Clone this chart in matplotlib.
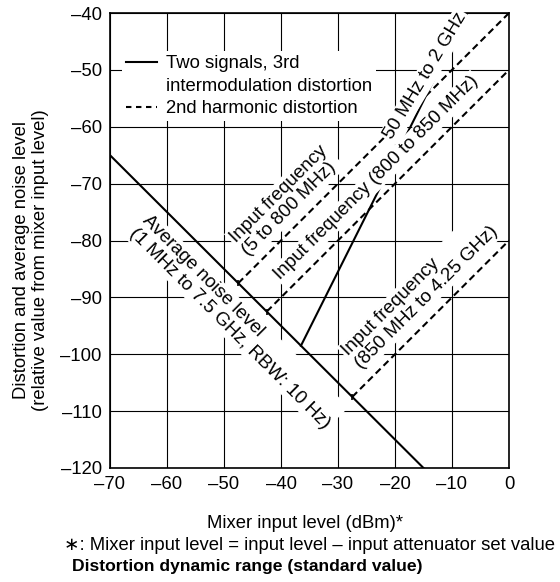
import matplotlib
matplotlib.use("Agg")
import matplotlib.pyplot as plt
from matplotlib.lines import Line2D

plt.rcParams['font.family'] = ['Liberation Sans', 'DejaVu Sans']

# average noise level line
noise_x = [-70, -15]
noise_y = [-65, -120]

# two signals, 3rd order intermodulation distortion
im3_x = [-36.5, -7.3]
im3_y = [-98.5, -40]

# 2nd harmonic distortion, by input frequency
h2_low_x = [-47.5, 0]      # 5 to 800 MHz
h2_low_y = [-87.5, -40]
h2_mid_x = [-42.5, 0]      # 800 to 850 MHz
h2_mid_y = [-92.5, -50]
h2_high_x = [-27.5, 0]     # 850 MHz to 4.25 GHz
h2_high_y = [-107.5, -80]

x_ticks = [-70, -60, -50, -40, -30, -20, -10, 0]
y_ticks = [-120, -110, -100, -90, -80, -70, -60, -50, -40]

FS = 13.3
FS_LBL = 13.6

def dash_label(v):
    return str(v).replace('-', '\u2013')

fig = plt.figure(figsize=(5.6, 5.82), dpi=100)
ax = fig.add_axes([110/560, 1 - 468/582, 399/560, 455/582])

ax.plot(noise_x, noise_y, color='black', lw=1.5)
ax.plot(im3_x, im3_y, color='black', lw=1.5)
for xs, ys in [(h2_low_x, h2_low_y), (h2_mid_x, h2_mid_y), (h2_high_x, h2_high_y)]:
    ax.plot(xs, ys, color='black', lw=1.5, dashes=(3.3, 2.0),
            marker='|', markersize=5, markevery=[0], markeredgewidth=1.2)

ax.set_xlim(-70, 0)
ax.set_ylim(-120, -40)
ax.set_xticks(x_ticks)
ax.set_yticks(y_ticks)
ax.set_xticklabels([dash_label(v) for v in x_ticks])
ax.set_yticklabels([dash_label(v) for v in y_ticks])
ax.tick_params(length=0, labelsize=FS, pad=6)
ax.set_axisbelow(True)
ax.grid(True, color='black', lw=0.8)
for s in ax.spines.values():
    s.set_linewidth(1.2)

box = dict(facecolor='white', edgecolor='none', pad=1.5)
txt = dict(fontsize=FS_LBL, ha='center', va='center', rotation_mode='anchor',
           multialignment='left', linespacing=1.05, bbox=box)

ax.text(-39.3, -73.0, "Input frequency\n(5 to 800 MHz)", rotation=45, **txt)
ax.text(-23.2, -69.0, "Input frequency (800 to 850 MHz)", rotation=45, **txt)
ax.text(-15.6, -88.9, "Input frequency\n(850 MHz to 4.25 GHz)", rotation=45, **txt)
ax.text(-47.9, -94.3, "Average noise level\n(1 MHz to 7.5 GHz, RBW: 10 Hz)",
        rotation=-45, **txt)
ax.text(-14.6, -51.1, "50 MHz to 2 GHz", rotation=59, **txt)

handles = [Line2D([], [], color='black', lw=1.5),
           Line2D([], [], color='none'),
           Line2D([], [], color='black', lw=1.5, dashes=(2.6, 2.2))]
labels = ["Two signals, 3rd", "intermodulation distortion", "2nd harmonic distortion"]
leg = ax.legend(handles, labels, loc='upper left', bbox_to_anchor=(0.03, 0.9156),
                fontsize=FS, frameon=True, fancybox=False, framealpha=1,
                edgecolor='none', handlelength=1.7, handletextpad=0.5,
                labelspacing=0.3, borderpad=0.2, borderaxespad=0)

fig.text(305/560, 1 - 524/582, "Mixer input level (dBm)*", fontsize=FS,
         ha='center', va='center')
fig.text(64/560, 1 - 545/582, "\u2217: Mixer input level = input level \u2013 input attenuator set value",
         fontsize=FS, ha='left', va='center')
fig.text(72/560, 1 - 567/582, "Distortion dynamic range (standard value)",
         fontsize=12.6, fontweight='bold', ha='left', va='center')
fig.text(31/560, 1 - 260/582,
         "Distortion and average noise level\n(relative value from mixer input level)",
         fontsize=FS, rotation=90, ha='center', va='center', linespacing=1.1)

fig.savefig("out.png", dpi=100)
